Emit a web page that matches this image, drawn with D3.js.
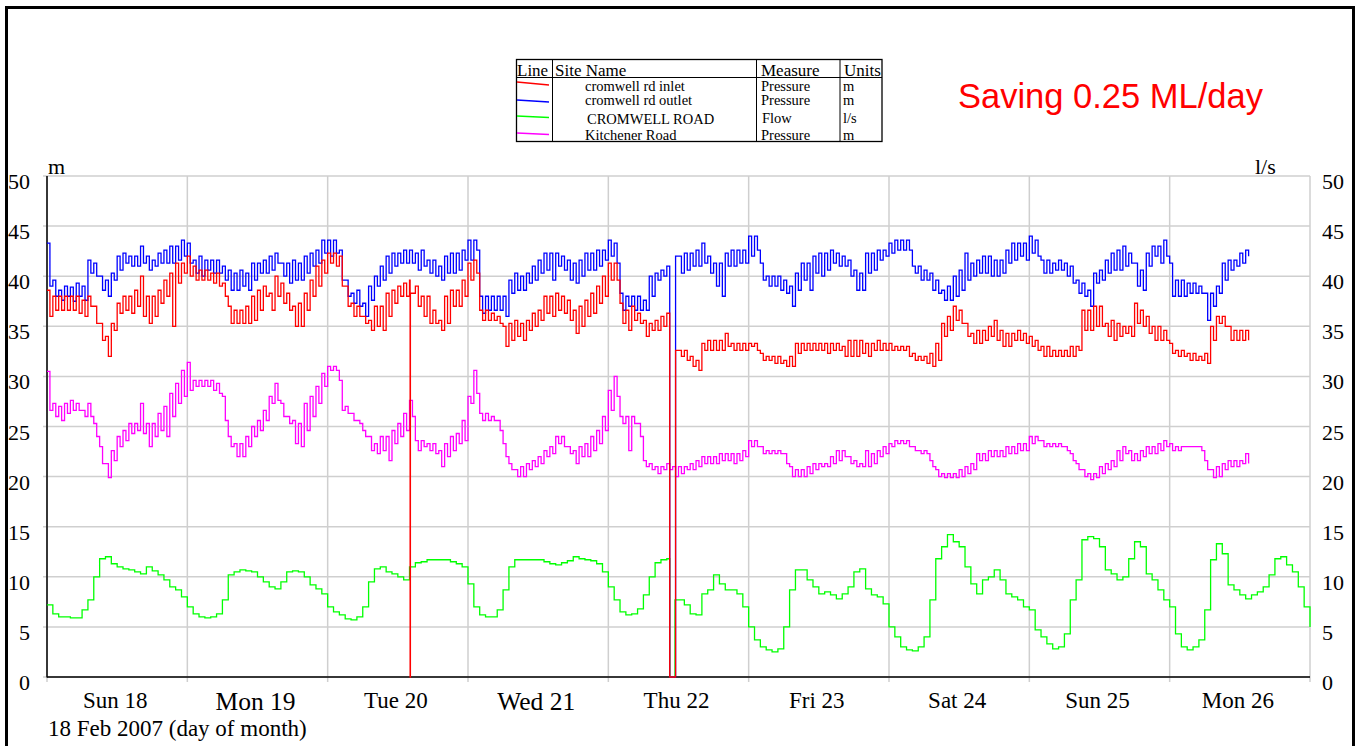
<!DOCTYPE html>
<html><head><meta charset="utf-8">
<script src="https://cdn.jsdelivr.net/npm/d3@7"></script>
<style>body{margin:0;background:#fff;overflow:hidden}</style>
</head><body>
<svg id="c" width="1359" height="746"></svg>
<script>
// ---------------- DATA ----------------
const dayLabels = ["Sun 18","Mon 19","Tue 20","Wed 21","Thu 22","Fri 23","Sat 24","Sun 25","Mon 26"];
const yTicks = [0,5,10,15,20,25,30,35,40,45,50];
const legendRows = [
  {site:"cromwell rd inlet", measure:"Pressure", units:"m"},
  {site:"cromwell rd outlet", measure:"Pressure", units:"m"},
  {site:"CROMWELL ROAD", measure:"Flow", units:"l/s"},
  {site:"Kitchener Road", measure:"Pressure", units:"m"}
];
const annotation = "Saving 0.25 ML/day";
const xTitle = "18 Feb 2007 (day of month)";

// half-hourly samples from 00:00 Sun 18 Feb 2007 (m)
const inletPressure = [
38.6,36.0, 38.0,36.6, 38.0,36.6, 38.0,36.6, 38.0,36.6, 38.0,36.3, 37.6,36.0, 38.0,37.0, 37.0,35.3, 35.3,33.6,
34.0,32.0, 35.3,34.6, 37.3,36.3, 38.0,36.6, 38.0,36.3, 38.6,37.0, 40.0,36.0, 38.0,35.3, 38.0,36.0, 38.6,37.3,
39.6,38.0, 40.3,35.0, 41.3,39.3, 41.3,40.3, 42.0,40.0, 41.0,39.6, 40.6,39.6, 40.6,39.6, 40.3,39.3, 40.3,39.0,
39.3,38.0, 37.0,35.3, 36.6,35.3, 36.6,35.3, 37.0,35.3, 38.0,35.6, 38.6,36.6, 39.0,38.0, 38.3,36.6, 40.0,38.0,
39.3,37.3, 38.3,36.6, 37.0,35.0, 37.3,35.0, 38.3,36.6, 39.6,38.0, 41.0,39.0, 41.6,40.3, 42.3,41.3, 42.3,41.0,
42.0,39.0, 39.0,37.0, 37.3,36.0, 37.0,36.0, 36.0,35.3, 35.6,34.6, 37.0,35.0, 37.0,34.6, 38.3,36.0, 38.6,37.3,
39.0,38.0, 39.3,38.0, 39.6,38.3, 39.0,37.0, 38.0,36.0, 38.0,35.3, 36.6,35.3, 35.6,34.6, 38.0,35.3, 38.6,37.0,
38.6,37.0, 39.6,38.0, 41.3,39.6, 41.6,40.3, 36.6,35.6, 36.6,35.6, 36.3,35.6, 36.0,35.3, 35.0,33.0, 35.3,33.6,
35.6,34.0, 35.3,33.6, 35.6,34.6, 36.3,35.0, 36.6,35.6, 38.0,36.3, 38.0,36.0, 38.3,36.6, 38.0,36.3, 37.6,35.6,
36.6,34.3, 37.0,35.0, 37.6,36.0, 38.3,36.3, 39.0,37.3, 40.0,38.0, 41.3,39.6, 41.3,39.6, 37.3,35.3, 36.6,34.6,
37.0,35.6, 36.3,35.3, 35.6,34.0, 35.3,34.6, 35.6,34.6, 36.0,35.0, 36.3,0, 0,32.6, 32.6,32.0, 32.6,31.6,
32.0,31.0, 31.6,30.6, 33.3,32.6, 33.6,32.6, 33.6,32.6, 33.6,32.6, 34.3,33.0, 33.3,32.6, 33.3,32.6, 33.3,32.6,
33.3,33.0, 33.3,32.6, 32.3,31.6, 32.0,31.6, 32.0,31.3, 32.0,31.3, 31.6,31.0, 32.0,31.0, 33.3,32.3, 33.3,32.6,
33.3,32.6, 33.3,32.6, 33.3,32.6, 33.3,32.3, 33.3,32.6, 33.3,32.6, 33.0,32.0, 33.6,32.0, 33.6,32.0, 33.6,32.3,
33.3,32.0, 33.3,32.6, 33.6,32.6, 33.3,32.6, 33.3,32.6, 33.0,32.6, 33.0,32.6, 33.0,32.0, 32.3,31.6, 32.0,31.6,
32.0,31.3, 32.3,31.0, 33.3,31.6, 35.3,34.0, 36.0,34.6, 37.0,35.6, 36.6,35.3, 35.3,34.0, 34.3,33.3, 34.6,33.3,
34.6,33.6, 35.0,34.0, 35.6,33.6, 34.6,33.0, 34.3,33.0, 34.3,33.6, 34.6,33.6, 34.3,33.3, 34.0,33.0, 33.6,32.6,
33.0,32.0, 33.0,32.0, 32.6,32.0, 32.6,32.0, 32.6,32.0, 33.0,32.0, 33.0,32.6, 36.6,34.6, 36.6,34.6, 37.0,35.0,
37.0,35.0, 35.3,34.0, 35.6,33.6, 35.3,34.0, 35.0,34.3, 35.0,34.0, 37.3,35.3, 36.6,35.0, 36.0,34.3, 35.0,33.6,
35.0,33.6, 34.6,33.6, 33.3,32.3, 32.6,32.0, 32.6,32.0, 32.3,31.6, 32.3,31.6, 32.0,31.6, 32.3,31.3, 35.0,33.6,
36.0,35.3, 36.0,35.0, 35.0,33.6, 34.6,33.6, 34.6,33.6, 34.6,33.6
];
const inletSpikes = [[62.1, 0], [62.15, 38.3]];   // [hour, m]

const outletPressure = [
43.3,39.0, 39.6,38.0, 38.6,37.6, 39.0,38.0, 38.9,37.5, 39.3,38.0, 39.0,37.6, 41.6,40.3, 41.3,40.0, 40.0,38.6,
39.6,38.0, 40.3,39.6, 42.0,40.6, 42.3,41.3, 42.0,41.0, 42.0,41.0, 43.0,41.3, 42.0,40.6, 41.6,41.0, 42.3,41.3,
42.6,41.3, 43.0,41.3, 43.0,41.6, 43.6,42.0, 43.3,41.3, 41.6,40.3, 42.0,40.0, 41.6,40.6, 41.6,40.3, 41.6,40.3,
41.0,39.6, 40.6,38.6, 40.3,38.6, 40.6,39.0, 40.3,38.6, 41.3,39.6, 41.3,40.3, 41.6,40.3, 42.0,40.6, 42.3,41.3,
41.3,40.0, 41.3,39.3, 41.6,39.6, 41.3,39.6, 42.0,40.3, 42.3,41.0, 42.6,41.3, 43.6,42.3, 43.6,42.0, 43.6,42.3,
42.6,39.6, 39.6,38.0, 38.3,37.3, 38.6,37.0, 37.3,36.0, 39.0,37.6, 40.0,39.0, 41.0,39.6, 42.0,40.3, 42.3,41.0,
42.3,41.3, 42.6,41.3, 42.6,41.3, 42.3,40.6, 42.6,41.0, 41.6,40.3, 41.6,40.0, 41.0,39.6, 42.0,40.3, 42.3,40.3,
42.3,40.6, 42.6,41.6, 43.6,41.6, 43.6,42.6, 38.0,36.3, 38.0,36.6, 38.0,36.6, 38.0,36.6, 38.0,36.0, 39.6,38.3,
40.3,38.6, 40.0,38.6, 40.3,39.3, 41.0,39.6, 41.6,40.3, 42.3,40.6, 42.3,39.6, 42.3,41.0, 42.0,40.6, 41.6,39.6,
41.3,39.3, 41.6,40.0, 42.3,40.6, 42.3,40.6, 42.6,41.0, 42.6,41.6, 43.6,42.0, 43.3,41.3, 38.3,36.6, 38.0,37.0,
38.0,36.6, 38.0,36.6, 37.6,36.6, 40.0,38.0, 40.3,39.6, 40.6,40.0, 41.0,0, 0,42.0, 42.0,40.3, 42.3,40.6,
42.3,41.0, 42.6,41.0, 43.3,41.3, 42.0,40.3, 41.3,39.0, 41.3,38.0, 42.3,41.0, 42.6,41.0, 42.6,41.3, 42.6,41.3,
44.0,42.0, 44.0,42.6, 41.3,39.6, 40.0,39.0, 40.0,39.0, 40.0,38.6, 39.6,38.3, 39.0,37.0, 40.3,38.6, 41.3,39.6,
41.3,38.6, 42.0,40.3, 42.3,40.0, 42.3,40.6, 42.6,41.3, 42.3,41.0, 42.0,41.0, 41.6,40.0, 40.6,38.6, 40.3,38.6,
42.3,40.3, 42.3,40.6, 42.6,41.6, 42.6,42.0, 43.3,42.3, 43.6,42.6, 43.6,42.6, 43.6,42.6, 41.0,40.3, 41.0,39.6,
40.6,39.6, 40.3,38.6, 39.6,38.3, 38.6,37.6, 39.0,37.6, 40.0,38.0, 40.6,38.6, 42.3,39.6, 41.3,40.0, 41.6,40.3,
42.0,40.3, 42.0,40.0, 41.6,40.0, 41.6,40.3, 42.6,41.3, 43.3,41.6, 43.3,42.0, 43.3,41.6, 44.0,42.3, 43.6,42.0,
41.6,40.3, 41.6,40.3, 41.3,40.6, 41.6,40.6, 41.3,40.0, 41.0,39.3, 39.6,38.3, 39.3,38.0, 38.6,37.0, 40.3,39.3,
40.6,39.6, 41.6,40.3, 42.3,40.6, 42.6,40.6, 43.0,41.0, 42.3,41.3, 41.3,39.0, 40.6,38.6, 42.3,41.0, 43.0,42.0,
43.0,41.3, 43.6,42.0, 41.3,38.0, 39.6,38.0, 39.6,38.0, 39.3,38.3, 39.3,38.3, 39.0,38.3, 38.3,35.6, 38.3,37.0,
39.0,38.3, 41.3,39.6, 41.6,40.6, 41.6,41.0, 42.3,41.3, 42.6,42.0
];

const kitchenerPressure = [
30.5,26.6, 27.3,26.0, 27.0,25.6, 27.3,26.3, 27.6,26.6, 27.3,26.6, 26.6,26.0, 27.3,26.0, 25.3,24.0, 23.0,21.3,
21.3,19.9, 22.6,21.6, 24.0,23.0, 24.6,23.6, 25.3,24.3, 25.3,24.6, 27.3,24.3, 25.3,23.0, 25.3,24.0, 26.3,24.6,
27.0,24.0, 28.3,26.0, 29.3,27.3, 30.6,28.0, 31.4,28.6, 29.6,29.0, 29.6,29.0, 29.6,29.0, 29.6,28.6, 29.3,28.3,
28.0,25.6, 24.0,23.0, 23.3,22.0, 23.3,22.0, 24.0,23.0, 25.0,24.0, 25.6,24.6, 26.6,25.6, 28.0,27.3, 29.3,27.6,
27.3,26.0, 26.0,25.3, 25.6,23.3, 25.3,23.0, 27.3,24.6, 28.0,26.0, 29.0,27.3, 30.3,29.0, 31.0,30.6, 31.0,30.6,
29.6,26.6, 27.0,26.3, 26.3,25.6, 25.6,25.3, 24.6,24.0, 24.0,22.6, 23.3,22.3, 24.0,22.6, 24.0,21.6, 24.6,23.3,
25.3,24.0, 26.3,24.6, 27.6,26.0, 23.6,22.6, 23.6,23.0, 23.3,22.6, 23.3,22.3, 22.6,21.0, 23.3,22.0, 24.0,22.6,
24.3,23.3, 25.6,23.6, 28.0,27.3, 30.6,28.3, 26.3,25.6, 26.3,25.6, 26.0,25.6, 25.6,24.6, 23.3,22.0, 21.3,20.7,
20.7,20.0, 21.0,20.0, 21.3,20.7, 21.6,21.0, 22.0,21.3, 22.6,22.0, 23.0,22.3, 24.0,23.3, 24.0,23.0, 23.0,22.3,
22.6,21.3, 23.0,22.0, 23.3,22.0, 24.0,22.6, 24.6,23.3, 26.0,24.6, 28.6,26.6, 30.0,28.0, 26.0,25.3, 26.0,22.6,
26.0,25.3, 25.3,24.0, 21.6,21.0, 21.3,20.7, 21.0,20.3, 21.0,20.7, 21.3,20.7, 21.0,20.0, 21.0,20.3, 21.0,20.7,
21.3,20.7, 21.6,21.0, 22.0,21.3, 22.0,21.3, 22.0,21.3, 22.3,21.6, 22.3,21.6, 22.3,21.3, 22.3,21.6, 22.6,22.0,
23.6,23.0, 23.6,23.0, 23.0,22.3, 22.6,22.3, 22.6,22.3, 22.6,22.3, 22.3,21.3, 21.0,20.0, 20.7,20.0, 20.7,20.0,
21.0,20.3, 21.3,20.7, 21.3,21.0, 21.3,21.0, 22.0,21.3, 22.6,21.6, 22.6,22.0, 22.0,21.3, 21.6,21.0, 21.3,21.0,
22.6,21.0, 22.3,21.3, 22.6,22.0, 23.0,22.3, 23.3,23.0, 23.6,23.3, 23.6,23.3, 23.6,23.0, 23.0,22.6, 22.6,22.3,
22.6,22.3, 21.6,21.0, 20.7,20.0, 20.3,19.9, 20.3,19.9, 20.3,19.9, 20.7,20.0, 21.0,20.3, 21.3,20.7, 22.3,21.6,
22.3,21.6, 22.6,22.0, 22.6,22.0, 22.6,22.0, 23.0,22.3, 23.0,22.3, 23.3,22.6, 23.3,22.6, 24.0,23.3, 24.0,23.6,
23.6,23.0, 23.3,23.0, 23.3,23.0, 23.3,23.0, 23.0,22.6, 22.3,21.6, 21.3,20.7, 20.7,20.0, 20.3,19.7, 20.3,19.9,
21.0,20.3, 21.3,20.7, 21.6,21.0, 22.6,21.6, 23.0,22.3, 22.6,21.6, 22.3,21.6, 22.6,22.0, 23.0,22.3, 23.0,22.3,
23.3,22.6, 23.6,23.0, 23.3,22.6, 23.0,22.6, 23.0,23.0, 23.0,23.0, 23.0,23.0, 23.0,22.6, 21.6,20.7, 20.7,19.9,
21.0,20.0, 21.3,20.7, 21.6,21.0, 21.6,21.0, 21.6,21.3, 22.3,21.3
];

// hourly samples from 00:00 Sun 18 Feb 2007 (l/s)
const cromwellFlow = [
7.2,6.3,6.0,6.0,5.9,5.9,6.7,7.7,10.0,11.8,12.0,11.3,11.0,10.8,10.7,10.5,10.3,11.0,10.6,10.2,9.7,9.0,8.7,8.0,
7.0,6.3,6.0,5.9,6.0,6.3,7.7,10.2,10.5,10.7,10.6,10.5,10.0,9.5,9.0,8.8,9.5,10.5,10.6,10.5,10.0,9.2,8.8,8.3,
7.0,6.5,6.2,5.8,5.7,6.0,7.0,9.5,10.8,11.0,10.5,10.3,10.0,9.7,11.0,11.4,11.5,11.7,11.7,11.7,11.7,11.5,11.3,11.0,
9.3,7.0,6.2,6.0,6.0,6.7,8.7,11.0,11.7,11.7,11.7,11.7,11.7,11.5,11.3,11.2,11.4,11.6,12.0,11.8,11.7,11.6,11.3,10.5,
9.0,7.7,6.5,6.2,6.3,6.8,8.2,10.0,11.4,11.7,11.8,0,7.7,7.2,6.3,6.2,8.3,8.7,10.2,9.3,8.7,8.7,8.3,7.0,
5.0,3.7,3.0,2.7,2.5,2.8,5.0,8.7,10.7,10.7,9.7,9.0,8.3,8.5,8.2,7.8,8.3,9.0,10.5,10.8,8.8,8.2,8.0,7.3,
5.0,4.0,3.0,2.7,2.6,3.0,4.0,7.7,11.8,13.0,14.2,13.5,13.0,11.0,9.3,8.3,9.7,10.0,10.7,9.7,8.3,8.0,7.7,7.0,
6.7,4.7,4.0,3.3,2.8,3.0,4.3,7.7,9.7,13.7,14.0,13.8,13.0,10.7,10.3,9.7,10.0,11.8,13.5,13.0,10.3,9.7,8.7,7.7,
7.0,4.3,3.0,2.7,3.0,3.7,6.7,11.7,13.3,12.3,9.2,8.7,8.2,7.8,8.2,8.5,9.0,10.2,11.8,12.0,11.2,10.5,9.0,7.0,
5.0
];
const flowDropout = [[106.5, 0], [107.4, 7.7]];   // [hour, l/s]

// ---------------- CHART ----------------
const svg = d3.select("#c");
const serif = "'Liberation Serif','Times New Roman',serif";
const start = new Date(2007, 1, 18);
const end = new Date(2007, 1, 27);
const HOUR = 3600e3;
const x = d3.scaleTime().domain([start, end]).range([47, 1310]);
const y = d3.scaleLinear().domain([0, 50]).range([677, 176]);
const tAt = h => new Date(start.getTime() + h * HOUR);

// outer frame
svg.append("rect").attr("x", 6.5).attr("y", 7.5).attr("width", 1347).attr("height", 760)
  .attr("fill", "none").attr("stroke", "#000").attr("stroke-width", 3);

// grid
const grid = svg.append("g").attr("stroke", "#cfcfcf").attr("stroke-width", 1.5);
grid.selectAll("line.h").data(yTicks).join("line")
  .attr("x1", 43).attr("x2", 1310).attr("y1", d => y(d)).attr("y2", d => y(d));
const days = d3.timeDay.range(start, d3.timeDay.offset(end, 1));
grid.selectAll("line.v").data(days).join("line")
  .attr("x1", d => x(d)).attr("x2", d => x(d)).attr("y1", 176).attr("y2", 682);

// axes lines
svg.append("line").attr("x1", 47).attr("x2", 47).attr("y1", 176).attr("y2", 677.5)
  .attr("stroke", "#000").attr("stroke-width", 1.5);
svg.append("line").attr("x1", 47).attr("x2", 1310).attr("y1", 677).attr("y2", 677)
  .attr("stroke", "#000").attr("stroke-width", 1.5);

// y tick labels
svg.append("g").selectAll("text").data(yTicks).join("text")
  .attr("x", 30).attr("y", d => y(d) + 13).attr("text-anchor", "end")
  .attr("font-family", serif).attr("font-size", 22).text(d => d);
svg.append("g").selectAll("text").data(yTicks).join("text")
  .attr("x", 1322).attr("y", d => y(d) + 13)
  .attr("font-family", serif).attr("font-size", 22).text(d => d);

svg.append("text").attr("x", 48).attr("y", 174).attr("font-family", serif).attr("font-size", 22).text("m");
svg.append("text").attr("x", 1255).attr("y", 174).attr("font-family", serif).attr("font-size", 22).text("l/s");

// x labels (noon of each day)
const big = new Set(["Mon 19", "Wed 21"]);
svg.append("g").selectAll("text").data(dayLabels).join("text")
  .attr("x", (d, i) => x(tAt(i * 24 + 12)) - 2)
  .attr("y", d => big.has(d) ? 710 : 708)
  .attr("text-anchor", "middle")
  .attr("font-family", serif).attr("font-size", d => big.has(d) ? 25.5 : 23)
  .text(d => d);
svg.append("text").attr("x", 48).attr("y", 736).attr("font-family", serif).attr("font-size", 23).text(xTitle);

// series
const line = d3.line().x(d => x(tAt(d[0]))).y(d => y(d[1])).curve(d3.curveStepAfter);
function pts(vals, step, extra) {
  const p = vals.map((v, i) => [i * step, v]).concat(extra || []);
  return p.sort((a, b) => a[0] - b[0]);
}
const plot = svg.append("g").attr("fill", "none").attr("stroke-width", 1.3);
plot.append("path").attr("d", line(pts(cromwellFlow, 1, flowDropout))).attr("stroke", "#00ff00");
plot.append("path").attr("d", line(pts(kitchenerPressure, 0.5))).attr("stroke", "#ff00ff");
plot.append("path").attr("d", line(pts(outletPressure, 0.5))).attr("stroke", "#0000ff");
plot.append("path").attr("d", line(pts(inletPressure, 0.5, inletSpikes))).attr("stroke", "#ff0000");

// legend
const lg = svg.append("g");
lg.append("rect").attr("x", 516.5).attr("y", 59.5).attr("width", 365.5).attr("height", 82)
  .attr("fill", "none").attr("stroke", "#000").attr("stroke-width", 1.3);
lg.append("line").attr("x1", 516.5).attr("x2", 882).attr("y1", 77.5).attr("y2", 77.5).attr("stroke", "#000").attr("stroke-width", 1);
[552.5, 756.5, 840].forEach(cx => lg.append("line").attr("x1", cx).attr("x2", cx).attr("y1", 59.5).attr("y2", 141.5).attr("stroke", "#000").attr("stroke-width", 1));
const hdr = [["Line", 517], ["Site Name", 555], ["Measure", 761], ["Units", 844]];
hdr.forEach(([t, hx]) => lg.append("text").attr("x", hx).attr("y", 75.5).attr("font-family", serif).attr("font-size", 17).text(t));
const colors = ["#ff0000", "#0000ff", "#00ff00", "#ff00ff"];
const rowY = [91, 105, 124, 140];
const sampleY = [[82, 85], [100, 102], [116, 117.5], [133, 134.5]];
legendRows.forEach((r, i) => {
  lg.append("line").attr("x1", 517).attr("x2", 549).attr("y1", sampleY[i][0]).attr("y2", sampleY[i][1])
    .attr("stroke", colors[i]).attr("stroke-width", 1.3);
  lg.append("text").attr("x", i === 2 ? 587 : 585).attr("y", rowY[i]).attr("font-family", serif).attr("font-size", 14.5).text(r.site);
  lg.append("text").attr("x", i === 2 ? 762 : 761).attr("y", i === 2 ? 123 : rowY[i]).attr("font-family", serif).attr("font-size", 14.5).text(r.measure);
  lg.append("text").attr("x", 843).attr("y", i === 2 ? 123 : rowY[i]).attr("font-family", serif).attr("font-size", 14.5).text(r.units);
});

// annotation
svg.append("text").attr("x", 958).attr("y", 108)
  .attr("font-family", "'Liberation Sans',Arial,sans-serif").attr("font-size", 34.5)
  .attr("fill", "#ff0000").text(annotation);
</script>
</body></html>
